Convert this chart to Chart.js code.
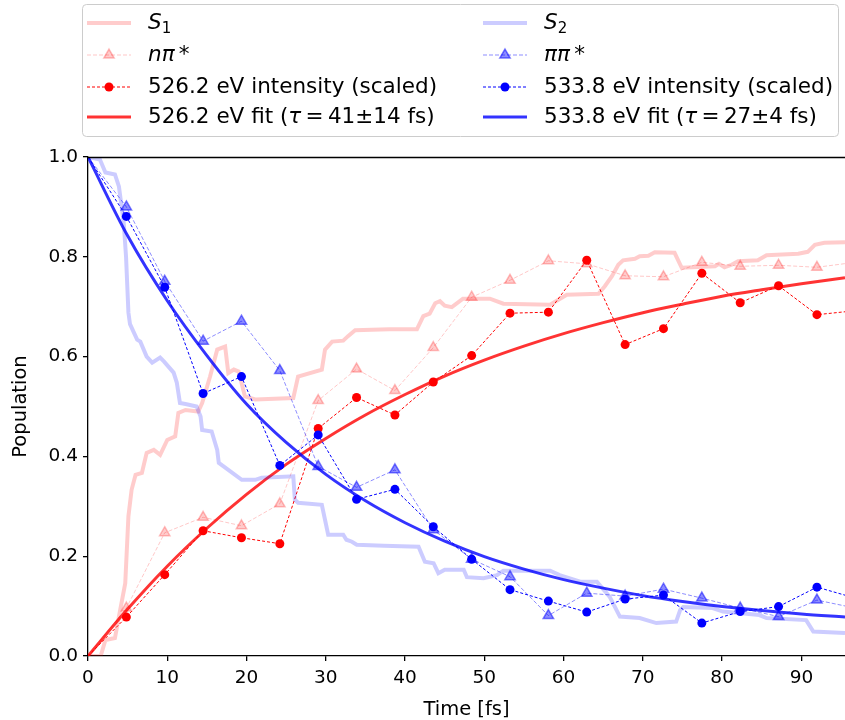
<!DOCTYPE html>
<html>
<head>
<meta charset="utf-8">
<script src="https://cdn.jsdelivr.net/npm/chart.js@4.4.1/dist/chart.umd.min.js"></script>
<style>
  html, body { margin: 0; padding: 0; background: #fff; }
  canvas { display: block; }
</style>
</head>
<body>
<canvas id="chart" width="845" height="720"></canvas>
<script>
// simulated state populations
const s1Time = [0, 1.6, 2.2, 3.4, 3.9, 4.7, 5.1, 5.5, 6.0, 6.8, 7.4, 8.3, 9.1, 10.0, 11.0, 11.4, 12.3, 13.9, 14.4, 15.4, 16.3, 17.3, 17.7, 18.4, 19.0, 19.8, 21.1, 25.9, 26.5, 29.5, 29.9, 30.8, 32.2, 32.8, 33.7, 38.0, 41.5, 42.3, 43.1, 43.8, 44.4, 45.0, 45.9, 47.3, 50.7, 52.4, 58.3, 60.4, 64.4, 65.2, 66.1, 66.9, 67.5, 69.0, 69.6, 70.7, 71.5, 74.0, 74.9, 79.1, 79.6, 80.3, 81.2, 82.0, 84.5, 85.6, 89.6, 90.8, 91.7, 92.9, 95.5];
const s1Pop = [0, 0.0, 0.032, 0.036, 0.079, 0.146, 0.28, 0.333, 0.363, 0.367, 0.407, 0.413, 0.403, 0.433, 0.44, 0.487, 0.493, 0.49, 0.507, 0.56, 0.614, 0.62, 0.567, 0.574, 0.57, 0.52, 0.514, 0.517, 0.56, 0.574, 0.614, 0.63, 0.632, 0.641, 0.653, 0.655, 0.655, 0.681, 0.686, 0.707, 0.711, 0.702, 0.699, 0.716, 0.716, 0.706, 0.704, 0.724, 0.726, 0.741, 0.761, 0.784, 0.793, 0.796, 0.801, 0.802, 0.809, 0.808, 0.778, 0.781, 0.786, 0.779, 0.784, 0.791, 0.793, 0.803, 0.806, 0.81, 0.824, 0.828, 0.829];
const s2Time = [0, 1.5, 2.2, 3.4, 3.9, 4.5, 4.8, 5.1, 5.3, 6.2, 6.6, 7.4, 8.1, 9.1, 9.6, 10.8, 11.2, 11.6, 12.3, 13.7, 14.2, 14.4, 15.6, 16.3, 16.5, 17.7, 19.4, 21.1, 21.9, 25.9, 26.1, 26.5, 29.5, 29.9, 30.3, 32.2, 32.6, 33.3, 33.9, 37.3, 41.7, 42.5, 43.6, 44.2, 45.0, 47.4, 47.8, 49.9, 51.6, 52.4, 58.3, 59.5, 62.1, 64.2, 65.8, 67.1, 69.6, 71.7, 74.2, 74.7, 75.1, 78.8, 80.1, 84.7, 85.6, 90.6, 91.5, 95.5];
const s2Pop = [1.0, 0.995, 0.969, 0.965, 0.941, 0.87, 0.8, 0.688, 0.665, 0.634, 0.63, 0.6, 0.588, 0.598, 0.59, 0.568, 0.548, 0.507, 0.505, 0.5, 0.48, 0.453, 0.45, 0.413, 0.387, 0.373, 0.353, 0.353, 0.357, 0.36, 0.313, 0.307, 0.303, 0.273, 0.243, 0.243, 0.233, 0.229, 0.223, 0.221, 0.219, 0.189, 0.186, 0.166, 0.173, 0.173, 0.158, 0.156, 0.162, 0.171, 0.171, 0.162, 0.149, 0.149, 0.119, 0.079, 0.076, 0.066, 0.069, 0.092, 0.098, 0.096, 0.089, 0.082, 0.076, 0.072, 0.049, 0.046];

// delays of the measured points (fs)
const delayTime = [0, 4.84, 9.68, 14.52, 19.36, 24.2, 29.04, 33.88, 38.72, 43.56, 48.4, 53.24, 58.08, 62.92, 67.76, 72.6, 77.44, 82.28, 87.12, 91.96, 96.8];
const npiPop = [0, 0.096, 0.247, 0.278, 0.261, 0.305, 0.512, 0.575, 0.532, 0.618, 0.719, 0.753, 0.792, 0.786, 0.762, 0.760, 0.789, 0.781, 0.783, 0.779, 0.789];
const pipiPop = [1.0, 0.900, 0.751, 0.631, 0.671, 0.572, 0.380, 0.338, 0.373, 0.253, 0.194, 0.159, 0.081, 0.126, 0.120, 0.134, 0.116, 0.096, 0.079, 0.112, 0.096];
const int526 = [0, 0.078, 0.163, 0.251, 0.237, 0.225, 0.456, 0.518, 0.483, 0.549, 0.602, 0.687, 0.689, 0.793, 0.624, 0.656, 0.767, 0.708, 0.742, 0.684, 0.692];
const int533 = [1.0, 0.881, 0.739, 0.526, 0.560, 0.382, 0.443, 0.314, 0.334, 0.259, 0.194, 0.133, 0.110, 0.088, 0.114, 0.122, 0.066, 0.089, 0.099, 0.138, 0.116];

// fit curves
const fitTime = [0, 5, 10, 15, 20, 25, 30, 35, 40, 45, 50, 55, 60, 65, 70, 75, 80, 85, 90, 95.5];
const fit526 = [0, 0.094, 0.180, 0.256, 0.324, 0.384, 0.436, 0.483, 0.524, 0.561, 0.593, 0.621, 0.646, 0.668, 0.688, 0.705, 0.721, 0.734, 0.746, 0.758];
const fit533 = [1.0, 0.842, 0.712, 0.602, 0.505, 0.428, 0.364, 0.311, 0.267, 0.230, 0.199, 0.174, 0.153, 0.136, 0.121, 0.109, 0.099, 0.091, 0.084, 0.078];

const xTicks = [0, 10, 20, 30, 40, 50, 60, 70, 80, 90];
const yTicks = [0, 0.2, 0.4, 0.6, 0.8, 1.0];

const FONT = 'DejaVu Sans';
const pts = (xs, ys) => xs.map((x, i) => ({ x: x, y: ys[i] }));
const markerSizes = (r) => delayTime.map((t, i) => (i === 0 ? 0 : r));

const datasets = [
  { label: 'S1', data: pts(s1Time, s1Pop), borderColor: 'rgba(255,0,0,0.2)', borderWidth: 4, pointRadius: 0, order: 8 },
  { label: 'npi', data: pts(delayTime, npiPop), borderColor: 'rgba(255,0,0,0.22)', borderWidth: 1, borderDash: [4, 2],
    pointStyle: 'triangle', pointRadius: markerSizes(6), pointBackgroundColor: 'rgba(255,0,0,0.2)',
    pointBorderColor: 'rgba(255,0,0,0.25)', pointBorderWidth: 1.5, order: 7 },
  { label: '526 int', data: pts(delayTime, int526), borderColor: '#ff0000', borderWidth: 1, borderDash: [3, 2],
    pointStyle: 'circle', pointRadius: markerSizes(4.5), pointBackgroundColor: '#ff0000', pointBorderColor: '#ff0000',
    pointBorderWidth: 0, order: 6 },
  { label: '526 fit', data: pts(fitTime, fit526), borderColor: 'rgba(255,0,0,0.8)', borderWidth: 3, pointRadius: 0,
    cubicInterpolationMode: 'monotone', order: 5 },
  { label: 'S2', data: pts(s2Time, s2Pop), borderColor: 'rgba(0,0,255,0.2)', borderWidth: 4, pointRadius: 0, order: 4 },
  { label: 'pipi', data: pts(delayTime, pipiPop), borderColor: 'rgba(0,0,255,0.45)', borderWidth: 1, borderDash: [4, 2],
    pointStyle: 'triangle', pointRadius: markerSizes(6), pointBackgroundColor: 'rgba(0,0,255,0.45)',
    pointBorderColor: 'rgba(0,0,255,0.5)', pointBorderWidth: 1.5, order: 3 },
  { label: '533 int', data: pts(delayTime, int533), borderColor: '#0000ff', borderWidth: 1, borderDash: [3, 2],
    pointStyle: 'circle', pointRadius: markerSizes(4.5), pointBackgroundColor: '#0000ff', pointBorderColor: '#0000ff',
    pointBorderWidth: 0, order: 2 },
  { label: '533 fit', data: pts(fitTime, fit533), borderColor: 'rgba(0,0,255,0.8)', borderWidth: 3, pointRadius: 0,
    cubicInterpolationMode: 'monotone', order: 1 }
];

// legend: [dataset index, label pieces]
const legendRows = [
  [0, [{ t: 'S', it: 1 }, { t: '1', sub: 1 }]],
  [1, [{ t: 'nπ', it: 1 }, { t: '\u2009*' }]],
  [2, [{ t: '526.2 eV intensity (scaled)' }]],
  [3, [{ t: '526.2 eV fit (' }, { t: 'τ', it: 1 }, { t: '\u2009=\u200941±14 fs)' }]],
  [4, [{ t: 'S', it: 1 }, { t: '2', sub: 1 }]],
  [5, [{ t: 'ππ', it: 1 }, { t: '\u2009*' }]],
  [6, [{ t: '533.8 eV intensity (scaled)' }]],
  [7, [{ t: '533.8 eV fit (' }, { t: 'τ', it: 1 }, { t: '\u2009=\u200927±4 fs)' }]]
];

function drawPieces(ctx, pieces, x, y) {
  ctx.textBaseline = 'middle';
  ctx.textAlign = 'left';
  ctx.fillStyle = '#000';
  pieces.forEach((p) => {
    const size = p.sub ? 15 : 21.5;
    ctx.font = (p.it ? 'italic ' : '') + size + 'px "' + FONT + '"';
    ctx.fillText(p.t, x, y + (p.sub ? 6 : 0));
    x += ctx.measureText(p.t).width;
  });
}

const legendPlugin = {
  id: 'boxLegend',
  afterDraw(chart) {
    const ctx = chart.ctx;
    ctx.save();
    // frame
    ctx.beginPath();
    ctx.roundRect(82.5, 4.5, 756, 132, 4);
    ctx.fillStyle = 'rgba(255,255,255,0.8)';
    ctx.fill();
    ctx.strokeStyle = '#cccccc';
    ctx.lineWidth = 1;
    ctx.stroke();

    const rowY = [23, 55, 87, 117];
    const colX = [87, 483];
    legendRows.forEach((row, i) => {
      const ds = chart.data.datasets[row[0]];
      const x0 = colX[Math.floor(i / 4)];
      const y = rowY[i % 4];
      ctx.save();
      ctx.strokeStyle = ds.borderColor;
      ctx.lineWidth = ds.borderWidth;
      ctx.setLineDash(ds.borderDash || []);
      ctx.beginPath();
      ctx.moveTo(x0, y);
      ctx.lineTo(x0 + 44, y);
      ctx.stroke();
      ctx.setLineDash([]);
      if (ds.pointStyle) {
        ctx.fillStyle = ds.pointBackgroundColor;
        ctx.strokeStyle = ds.pointBorderColor;
        ctx.lineWidth = ds.pointBorderWidth;
        Chart.helpers.drawPoint(ctx, {
          pointStyle: ds.pointStyle, rotation: 0,
          radius: ds.pointRadius[1], borderWidth: ds.pointBorderWidth
        }, x0 + 22, y);
      }
      ctx.restore();
      drawPieces(ctx, row[1], x0 + 61, y);
    });

    // top spine
    const a = chart.chartArea;
    ctx.strokeStyle = '#000';
    ctx.lineWidth = 1.5;
    ctx.beginPath();
    ctx.moveTo(a.left, Math.round(a.top) + 0.5);
    ctx.lineTo(chart.width, Math.round(a.top) + 0.5);
    ctx.stroke();
    ctx.restore();
  }
};

new Chart(document.getElementById('chart'), {
  type: 'line',
  data: { datasets: datasets },
  plugins: [legendPlugin],
  options: {
    responsive: false,
    animation: false,
    devicePixelRatio: 1,
    layout: { autoPadding: false, padding: { top: 157, right: 0, left: 0, bottom: 0 } },
    plugins: { legend: { display: false }, tooltip: { enabled: false } },
    elements: { line: { tension: 0 } },
    scales: {
      x: {
        type: 'linear', min: 0, max: 95.5,
        afterBuildTicks: (ax) => { ax.ticks = xTicks.map((v) => ({ value: v })); },
        afterFit: (ax) => { ax.height = 64; ax.paddingRight = 0; ax.paddingLeft = 0; },
        grid: { drawOnChartArea: false, drawTicks: true, tickLength: 5, color: '#000', lineWidth: 1.3 },
        border: { display: true, color: '#000', width: 1.3 },
        ticks: { color: '#000', font: { family: FONT, size: 18.5 }, padding: 6, maxRotation: 0 },
        title: { display: true, text: 'Time [fs]', color: '#000', font: { family: FONT, size: 19.5 }, padding: { top: 0, bottom: -2 } }
      },
      y: {
        type: 'linear', min: 0, max: 1,
        afterBuildTicks: (ax) => { ax.ticks = yTicks.map((v) => ({ value: v })); },
        afterFit: (ax) => { ax.width = 88; },
        grid: { drawOnChartArea: false, drawTicks: true, tickLength: 5, color: '#000', lineWidth: 1.3 },
        border: { display: true, color: '#000', width: 1.3 },
        ticks: { color: '#000', font: { family: FONT, size: 18.5 }, padding: 5, callback: (v) => v.toFixed(1) },
        title: { display: true, text: 'Population', color: '#000', font: { family: FONT, size: 19.5 }, padding: { top: 9, bottom: 0 } }
      }
    }
  }
});
</script>
</body>
</html>
